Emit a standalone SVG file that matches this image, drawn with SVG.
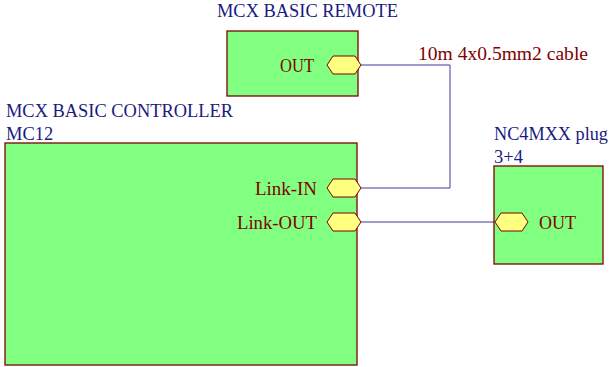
<svg xmlns="http://www.w3.org/2000/svg" width="609" height="367" viewBox="0 0 609 367">
<style>
.box{fill:#80ff80;stroke:#800000;stroke-width:1.3}
.port{fill:#ffff80;stroke:#800000;stroke-width:1}
.title{font-family:"Liberation Serif",serif;font-size:18.5px;fill:#1a1a80}
.lbl{font-family:"Liberation Serif",serif;font-size:18.5px;fill:#800000}
.wire{fill:none;stroke:#3a3aa0;stroke-width:1}
</style>
<rect width="609" height="367" fill="#fff"/>
<g id="connectors">
<polyline class="wire" points="361,65 450,65 450,188 361,188"/>
<line class="wire" x1="361" y1="222" x2="495" y2="222"/>
<text class="lbl" x="418" y="60" textLength="170" lengthAdjust="spacingAndGlyphs">10m 4x0.5mm2 cable</text>
</g>
<g id="remote">
<text class="title" x="217" y="17" textLength="181" lengthAdjust="spacingAndGlyphs">MCX BASIC REMOTE</text>
<rect class="box" x="227" y="31" width="131" height="65"/>
<text class="lbl" x="280" y="72" textLength="34" lengthAdjust="spacingAndGlyphs">OUT</text>
<polygon class="port" points="327,65 333,56 355,56 361,65 355,74 333,74"/>
</g>
<g id="controller">
<text class="title" x="6" y="117" textLength="227" lengthAdjust="spacingAndGlyphs">MCX BASIC CONTROLLER</text>
<text class="title" x="6" y="140">MC12</text>
<rect class="box" x="5" y="143" width="352" height="222"/>
<text class="lbl" x="255" y="195" textLength="62" lengthAdjust="spacingAndGlyphs">Link-IN</text>
<polygon class="port" points="327,188 333,179 355,179 361,188 355,197 333,197"/>
<text class="lbl" x="237" y="229" textLength="80" lengthAdjust="spacingAndGlyphs">Link-OUT</text>
<polygon class="port" points="327,222 333,213 355,213 361,222 355,231 333,231"/>
</g>
<g id="plug">
<text class="title" x="494" y="140" textLength="114" lengthAdjust="spacingAndGlyphs">NC4MXX plug</text>
<text class="title" x="494" y="163">3+4</text>
<rect class="box" x="494" y="166" width="109" height="98"/>
<polygon class="port" points="495,222 501,213 522,213 528,222 522,231 501,231"/>
<text class="lbl" x="539" y="229" textLength="37" lengthAdjust="spacingAndGlyphs">OUT</text>
</g>
</svg>
